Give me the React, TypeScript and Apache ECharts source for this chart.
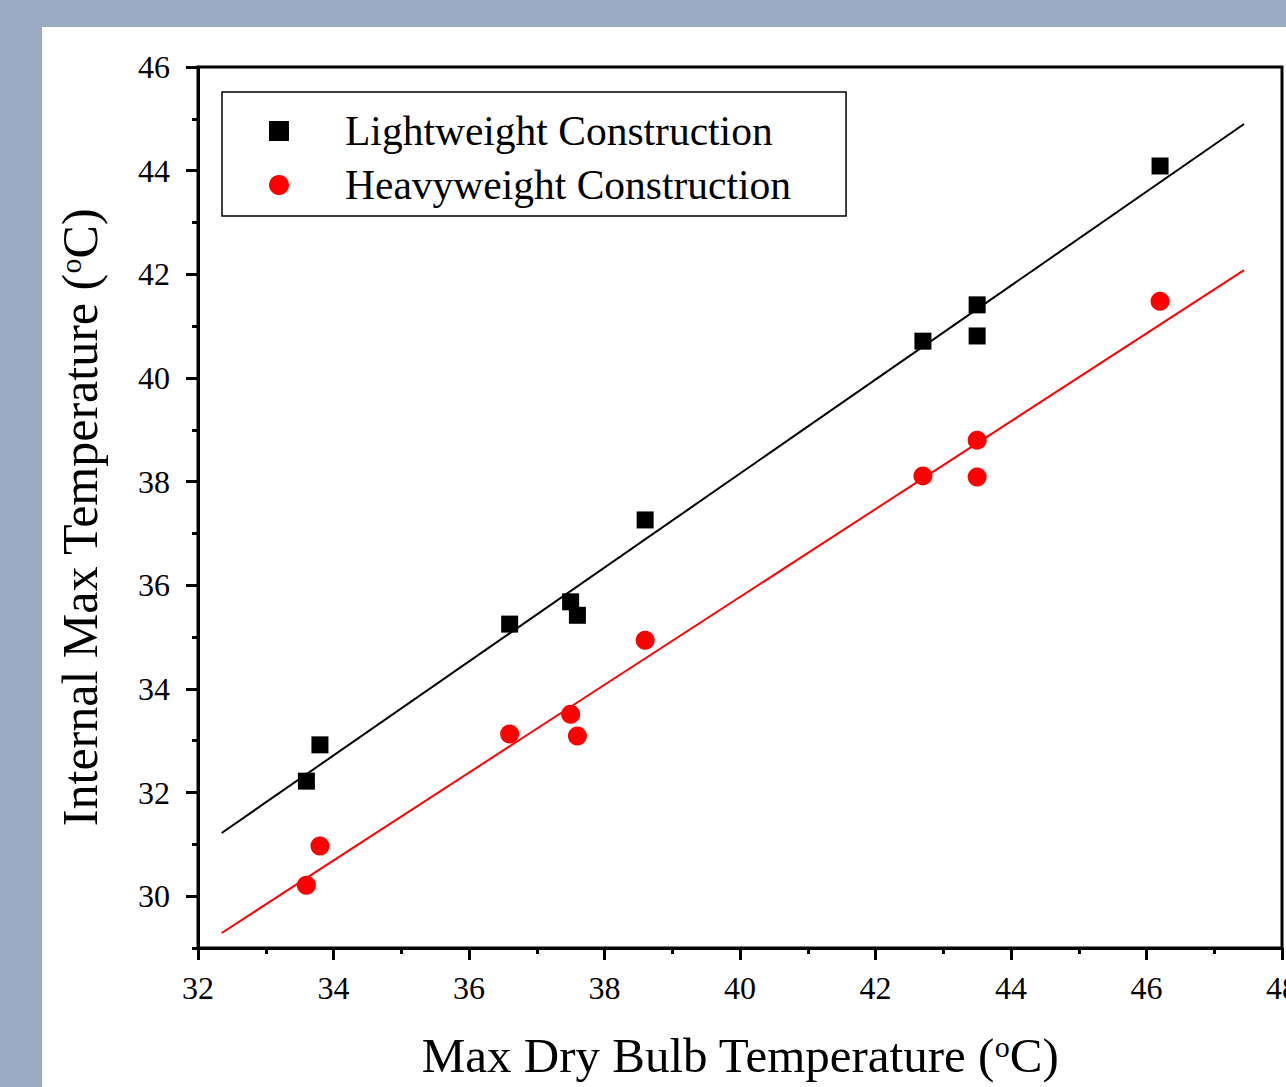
import React, { useEffect, useRef } from "react";
import * as echarts from "echarts";

const dryBulb = [33.6, 33.8, 36.6, 37.5, 37.6, 38.6, 42.7, 43.5, 43.5, 46.2];
const lightweight = [32.22, 32.92, 35.25, 35.68, 35.42, 37.26, 40.71, 41.41, 40.81, 44.09];
const heavyweight = [30.21, 30.97, 33.13, 33.51, 33.09, 34.94, 38.11, 38.8, 38.09, 41.48];
const lightFitX = [32.35, 47.44];
const lightFitY = [31.22, 44.9];
const heavyFitX = [32.35, 47.44];
const heavyFitY = [29.29, 42.08];
const yMajorTicks = [30, 32, 34, 36, 38, 40, 42, 44, 46];
const seriesNames = ["Lightweight Construction", "Heavyweight Construction"];

const FONT = "Liberation Serif";

export default function App() {
  const ref = useRef<HTMLDivElement>(null);
  useEffect(() => {
    if (!ref.current) return;
    const chart = echarts.init(ref.current, null, { renderer: "svg" });
    const pair = (xs: number[], ys: number[]) => xs.map((x, i) => [x, ys[i]]);
    const supRich = {
      sup: { fontSize: 30, fontFamily: FONT, color: "#000", verticalAlign: "top", lineHeight: 48 },
    };
    chart.setOption({
      animation: false,
      backgroundColor: "transparent",
      textStyle: { fontFamily: FONT },
      grid: {
        left: 198,
        top: 67,
        width: 1084,
        height: 881,
        show: true,
        borderColor: "#000",
        borderWidth: 3,
        backgroundColor: "transparent",
        containLabel: false,
        outerBoundsMode: "none",
      },
      legend: {
        data: [
          { name: seriesNames[0], icon: "rect" },
          { name: seriesNames[1], icon: "circle" },
        ],
        orient: "vertical",
        left: 222,
        top: 92,
        itemWidth: 20,
        itemHeight: 20,
        itemGap: 12,
        padding: [18, 55, 10, 47],
        borderColor: "#000",
        borderWidth: 1.5,
        selectedMode: false,
        textStyle: { fontFamily: FONT, fontSize: 41.5, color: "#000", padding: [0, 0, 0, 51] },
      },
      xAxis: [
        {
          type: "value",
          min: 32,
          max: 48,
          interval: 2,
          position: "bottom",
          name: "Max Dry Bulb Temperature ({sup|o}C)",
          nameLocation: "middle",
          nameGap: 83,
          nameTextStyle: { fontFamily: FONT, fontSize: 49, color: "#000", rich: supRich },
          axisLine: { show: true, lineStyle: { color: "#000", width: 3 } },
          axisTick: { show: true, length: 12, lineStyle: { color: "#000", width: 3 } },
          axisLabel: { fontFamily: FONT, fontSize: 32, color: "#000", margin: 24, hideOverlap: false },
          splitLine: { show: false },
        },
        {
          type: "value",
          min: 32,
          max: 48,
          interval: 1,
          position: "bottom",
          axisLine: { show: false },
          axisTick: { show: true, length: 6, lineStyle: { color: "#000", width: 3 } },
          axisLabel: { show: false },
          splitLine: { show: false },
        },
      ],
      yAxis: [
        {
          type: "value",
          min: 29,
          max: 46,
          position: "left",
          name: "Internal Max Temperature ({sup|o}C)",
          nameLocation: "middle",
          nameGap: 93,
          nameTextStyle: { fontFamily: FONT, fontSize: 50, color: "#000", rich: supRich, padding: [0, 20, 0, 0] },
          axisLine: { show: true, lineStyle: { color: "#000", width: 3 } },
          axisTick: { show: true, length: 12, customValues: yMajorTicks, lineStyle: { color: "#000", width: 3 } },
          axisLabel: { fontFamily: FONT, fontSize: 32, color: "#000", margin: 28, customValues: yMajorTicks },
          splitLine: { show: false },
        },
        {
          type: "value",
          min: 29,
          max: 46,
          interval: 1,
          position: "left",
          axisLine: { show: false },
          axisTick: { show: true, length: 6, lineStyle: { color: "#000", width: 3 } },
          axisLabel: { show: false },
          splitLine: { show: false },
        },
      ],
      series: [
        {
          name: "Lightweight fit",
          type: "line",
          data: pair(lightFitX, lightFitY),
          showSymbol: false,
          lineStyle: { color: "#000", width: 2 },
          z: 2,
          silent: true,
        },
        {
          name: "Heavyweight fit",
          type: "line",
          data: pair(heavyFitX, heavyFitY),
          showSymbol: false,
          lineStyle: { color: "#ff0000", width: 2 },
          z: 2,
          silent: true,
        },
        {
          name: seriesNames[0],
          type: "scatter",
          data: pair(dryBulb, lightweight),
          symbol: "rect",
          symbolSize: 17,
          itemStyle: { color: "#000", opacity: 1 },
          z: 3,
        },
        {
          name: seriesNames[1],
          type: "scatter",
          data: pair(dryBulb, heavyweight),
          symbol: "circle",
          symbolSize: 19,
          itemStyle: { color: "#ff0000", opacity: 1 },
          z: 3,
        },
      ],
    });
    return () => chart.dispose();
  }, []);

  return (
    <div style={{ position: "fixed", left: 0, top: 0, width: 1286, height: 1087, background: "#9aabc3", overflow: "hidden" }}>
      <div style={{ position: "absolute", left: 42, top: 27, width: 1244, height: 1060, background: "#fff" }} />
      <div ref={ref} style={{ position: "absolute", left: 0, top: 0, width: 1286, height: 1087 }} />
    </div>
  );
}
